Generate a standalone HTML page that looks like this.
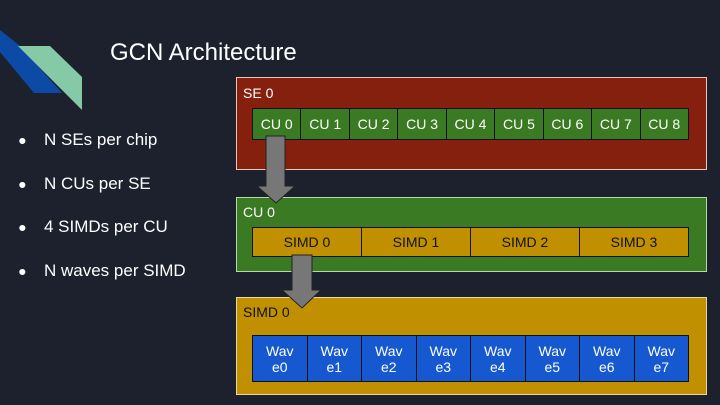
<!DOCTYPE html>
<html><head><style>
body{margin:0;width:720px;height:405px;background:#1c212d;position:relative;overflow:hidden;font-family:"Liberation Sans",sans-serif;color:#fff}
.a{position:absolute;box-sizing:border-box}
.t{font-size:14px;color:#fff}
.row{position:absolute;display:flex;box-sizing:border-box;border:1px solid #111}
.row div{flex:1;border-right:1px solid #111;display:flex;align-items:center;justify-content:center;text-align:center;font-size:14px}
.row div:last-child{border-right:none}
.b{position:absolute;font-size:17px;left:18px}
.b span{position:absolute;left:26px;white-space:nowrap}
</style></head><body>
<svg class="a" style="left:0;top:0" width="100" height="120">
<polygon points="0,30 0,52 34,93 62,93 20,46" fill="#0d4aa6"/>
<polygon points="18,46 50,46 82,77 82,110" fill="#85c9a6"/>
</svg>
<div class="a" style="left:110px;top:39px;font-size:24px">GCN Architecture</div>
<div class="b" style="top:130px"><small>●</small><span>N SEs per chip</span></div>
<div class="b" style="top:174px"><small>●</small><span>N CUs per SE</span></div>
<div class="b" style="top:217px"><small>●</small><span>4 SIMDs per CU</span></div>
<div class="b" style="top:261px"><small>●</small><span>N waves per SIMD</span></div>

<div class="a" style="left:236px;top:77px;width:471px;height:93px;background:#85200f;border:1px solid #e8c8b8"></div>
<div class="a t" style="left:243px;top:85px">SE 0</div>
<div class="row" style="left:252px;top:108px;width:437px;height:32px;background:#3a7a22">
<div>CU 0</div><div>CU 1</div><div>CU 2</div><div>CU 3</div><div>CU 4</div><div>CU 5</div><div>CU 6</div><div>CU 7</div><div>CU 8</div></div>

<div class="a" style="left:236px;top:197px;width:471px;height:75px;background:#3a7a22;border:1px solid #b8d8a8"></div>
<div class="a t" style="left:243px;top:204px">CU 0</div>
<div class="row" style="left:252px;top:227px;width:437px;height:30px;background:#c09000;color:#111">
<div style="color:#111">SIMD 0</div><div style="color:#111">SIMD 1</div><div style="color:#111">SIMD 2</div><div style="color:#111">SIMD 3</div></div>

<div class="a" style="left:236px;top:297px;width:471px;height:98px;background:#c09000;border:1px solid #e8d8a0"></div>
<div class="a t" style="left:243px;top:304px;color:#111">SIMD 0</div>
<div class="row" style="left:252px;top:335px;width:437px;height:47px;background:#1558d0">
<div>Wav<br>e0</div><div>Wav<br>e1</div><div>Wav<br>e2</div><div>Wav<br>e3</div><div>Wav<br>e4</div><div>Wav<br>e5</div><div>Wav<br>e6</div><div>Wav<br>e7</div></div>

<svg class="a" style="left:0;top:0" width="720" height="405">
<polygon points="266,136 285,136 285,186 295,186 276,203 257,186 266,186" fill="#777" stroke="#222" stroke-width="1"/>
<polygon points="292,255 312,255 312,290 321,290 302,308 282,290 292,290" fill="#777" stroke="#222" stroke-width="1"/>
</svg>
</body></html>
